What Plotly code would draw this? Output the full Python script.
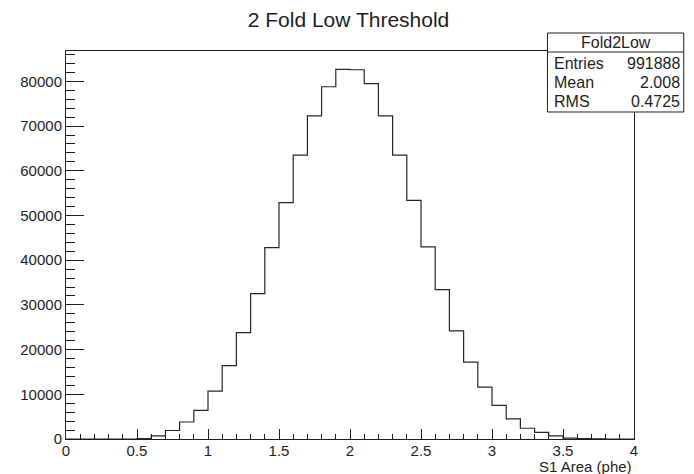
import plotly.graph_objects as go

# ---- data ----
bin_edges = [round(i * 0.1, 1) for i in range(41)]
counts = [0, 0, 0, 0, 0, 100, 700, 1900, 3800, 6400,
          10700, 16400, 23800, 32500, 42800, 52900, 63500, 72300, 78800, 82700,
          82600, 79500, 72300, 63500, 53400, 43000, 33400, 24200, 17200, 11600,
          7500, 4500, 2400, 1500, 700, 200, 100, 50, 0, 0]
hist_name = "Fold2Low"
stat_labels = ["Entries", "Mean", "RMS"]
stat_values = ["991888", "2.008", "0.4725"]
x_ticks = [0, 0.5, 1, 1.5, 2, 2.5, 3, 3.5, 4]
x_ticktext = ["0", "0.5", "1", "1.5", "2", "2.5", "3", "3.5", "4"]
y_ticks = [0, 10000, 20000, 30000, 40000, 50000, 60000, 70000, 80000]

# page body has an 8px margin; work in screen pixels and convert
OFF = 8
W, H = 694 - OFF, 474 - OFF
# plot frame in screen pixels
SX0, SX1, SY0, SY1 = 63, 634, 51, 439
L, R, T, B = SX0 - OFF, W - (SX1 - OFF), SY0 - OFF, H - (SY1 - OFF)
pw, ph = W - L - R, H - T - B
FONT = "Liberation Sans, Arial, Helvetica, sans-serif"
INK = "#1e1e1e"

def px(x):  # screen x -> paper
    return (x - SX0) / pw

def py(y):  # screen y -> paper
    return (SY1 - y) / ph

fig = go.Figure()
fig.add_trace(go.Scatter(
    x=bin_edges, y=counts + [counts[-1]], mode="lines", line_shape="hv",
    line=dict(color="#262626", width=1.2), hoverinfo="skip", showlegend=False))

fig.update_layout(
    width=W, height=H, margin=dict(l=L, r=R, t=T, b=B),
    paper_bgcolor="white", plot_bgcolor="white",
    font=dict(family=FONT, size=15, color=INK),
    title=dict(text="2 Fold Low Threshold", x=0.5 * (SX0 + SX1 - 2 * OFF) / W,
               xanchor="center", xref="container",
               y=1 - (20 - OFF) / H, yanchor="middle", yref="container",
               font=dict(size=21, color=INK)),
    showlegend=False,
)
fig.update_xaxes(range=[0, 4], tickvals=x_ticks, ticktext=x_ticktext,
                 ticks="inside", ticklen=10, tickcolor=INK, tickwidth=1,
                 ticklabelstandoff=-2,
                 minor=dict(ticks="inside", dtick=0.1, ticklen=5, tickcolor=INK),
                 showgrid=False, zeroline=False, showline=True, linecolor=INK,
                 linewidth=1, mirror=True, tickfont=dict(size=15))
fig.update_yaxes(range=[0, 86800], tickvals=y_ticks, tickformat="d",
                 ticks="inside", ticklen=18, tickcolor=INK, tickwidth=1,
                 minor=dict(ticks="inside", dtick=2000, ticklen=9, tickcolor=INK),
                 showgrid=False, zeroline=False, showline=True, linecolor=INK,
                 linewidth=1, mirror=True, tickfont=dict(size=15))

# x axis title (ROOT style, right aligned)
fig.add_annotation(text="S1 Area (phe)", x=1, xref="paper", xanchor="right",
                   y=py(466), yref="paper", yanchor="middle", showarrow=False,
                   font=dict(size=15))

# stats box (screen pixels)
bx0, bx1, by0, by1, bsep = 547, 684, 33, 112, 52
fig.add_shape(type="rect", xref="paper", yref="paper",
              x0=px(bx0), x1=px(bx1), y0=py(by1), y1=py(by0),
              line=dict(color=INK, width=1), fillcolor="white", layer="above")
fig.add_shape(type="line", xref="paper", yref="paper",
              x0=px(bx0), x1=px(bx1), y0=py(bsep), y1=py(bsep),
              line=dict(color=INK, width=1), layer="above")
fig.add_annotation(text=hist_name, x=px((bx0 + bx1) / 2), xref="paper", xanchor="center",
                   y=py(42.5), yref="paper", yanchor="middle", showarrow=False,
                   font=dict(size=16))
row_y = [63, 82, 101]
for lab, val, yy in zip(stat_labels, stat_values, row_y):
    fig.add_annotation(text=lab, x=px(bx0 + 5), xref="paper", xanchor="left",
                       y=py(yy), yref="paper", yanchor="middle", showarrow=False,
                       font=dict(size=16))
    fig.add_annotation(text=val, x=px(bx1 - 2), xref="paper", xanchor="right",
                       y=py(yy), yref="paper", yanchor="middle", showarrow=False,
                       font=dict(size=16))

fig.write_html("out.html")
